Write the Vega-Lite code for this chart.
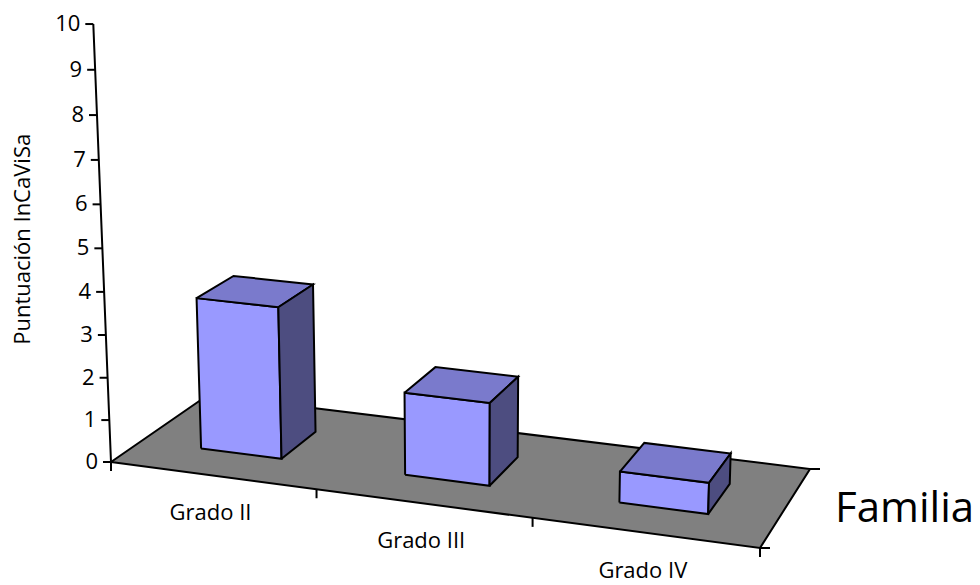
{
  "$schema": "https://vega.github.io/schema/vega-lite/v6.json",
  "width": 980,
  "height": 585,
  "autosize": {"type": "fit", "contains": "padding"},
  "padding": 0,
  "background": "#ffffff",
  "config": {
    "view": {"stroke": null},
    "text": {"font": "Open Sans", "color": "#000000"}
  },
  "datasets": {
    "barras": [
      {"familia": "Grado II", "valor": 3.6},
      {"familia": "Grado III", "valor": 1.94},
      {"familia": "Grado IV", "valor": 0.72}
    ],
    "escala": [
      {"v": 0}, {"v": 1}, {"v": 2}, {"v": 3}, {"v": 4}, {"v": 5},
      {"v": 6}, {"v": 7}, {"v": 8}, {"v": 9}, {"v": 10}
    ]
  },
  "layer": [
    {
      "description": "Floor of the 3D scene (categories 0..n along x, depth 0..1)",
      "data": {"name": "barras"},
      "transform": [
        {"aggregate": [{"op": "count", "as": "n"}]},
        {"calculate": "[0, 1, 2, 3, 4]", "as": "k"},
        {"flatten": ["k"]},
        {"calculate": "datum.k % 4", "as": "c"},
        {"calculate": "(datum.c == 1 || datum.c == 2) ? datum.n : 0", "as": "gx"},
        {"calculate": "datum.c >= 2 ? 1 : 0", "as": "gz"},
        {"calculate": "0", "as": "gy"},
        {"calculate": "1 - 0.02436*datum.gx + 0.08414*datum.gz - 0.00473*datum.gy", "as": "w"},
        {"calculate": "(197.82*datum.gx + 114.5*datum.gz - 2.211*datum.gy + 111)/datum.w", "as": "px"},
        {"calculate": "(15.317*datum.gx - 33.76*datum.gz - 43.91*datum.gy + 462)/datum.w", "as": "py"}
      ],
      "mark": {"type": "line", "fill": "#808080", "stroke": "#000000", "strokeWidth": 2, "strokeJoin": "miter"},
      "encoding": {
        "x": {"field": "px", "type": "quantitative", "scale": {"domain": [0, 980], "nice": false, "zero": false}, "axis": null},
        "y": {"field": "py", "type": "quantitative", "scale": {"domain": [0, 585], "reverse": true, "nice": false, "zero": false}, "axis": null},
        "order": {"field": "k", "type": "quantitative"}
      }
    },
    {
      "description": "Columns: front, top and right faces of each bar",
      "data": {"name": "barras"},
      "transform": [
        {"window": [{"op": "row_number", "as": "i"}]},
        {"calculate": "['frente', 'techo', 'lado']", "as": "cara"},
        {"flatten": ["cara"]},
        {"calculate": "[0, 1, 2, 3, 4]", "as": "k"},
        {"flatten": ["k"]},
        {"calculate": "datum.k % 4", "as": "c"},
        {"calculate": "(datum.cara == 'lado' || datum.c == 1 || datum.c == 2) ? datum.i - 0.3 : datum.i - 0.7", "as": "gx"},
        {"calculate": "datum.cara == 'frente' ? 0.3 : (datum.cara == 'techo' ? (datum.c >= 2 ? 0.69 : 0.3) : ((datum.c == 1 || datum.c == 2) ? 0.69 : 0.3))", "as": "gz"},
        {"calculate": "(datum.cara == 'techo' || datum.c >= 2) ? datum.valor : 0", "as": "gy"},
        {"calculate": "1 - 0.02436*datum.gx + 0.08414*datum.gz - 0.00473*datum.gy", "as": "w"},
        {"calculate": "(197.82*datum.gx + 114.5*datum.gz - 2.211*datum.gy + 111)/datum.w", "as": "px"},
        {"calculate": "(15.317*datum.gx - 33.76*datum.gz - 43.91*datum.gy + 462)/datum.w", "as": "py"}
      ],
      "encoding": {
        "x": {"field": "px", "type": "quantitative", "scale": {"domain": [0, 980], "nice": false, "zero": false}, "axis": null},
        "y": {"field": "py", "type": "quantitative", "scale": {"domain": [0, 585], "reverse": true, "nice": false, "zero": false}, "axis": null},
        "detail": {"field": "familia", "type": "nominal"},
        "order": {"field": "k", "type": "quantitative"}
      },
      "layer": [
        {
          "transform": [{"filter": "datum.cara == 'frente'"}],
          "mark": {"type": "line", "fill": "#9999FF", "stroke": "#000000", "strokeWidth": 2, "strokeJoin": "miter"}
        },
        {
          "transform": [{"filter": "datum.cara == 'techo'"}],
          "mark": {"type": "line", "fill": "#7A7ACC", "stroke": "#000000", "strokeWidth": 2, "strokeJoin": "miter"}
        },
        {
          "transform": [{"filter": "datum.cara == 'lado'"}],
          "mark": {"type": "line", "fill": "#4D4D80", "stroke": "#000000", "strokeWidth": 2, "strokeJoin": "miter"}
        }
      ]
    },
    {
      "description": "Value axis line, ticks and labels",
      "data": {"name": "escala"},
      "transform": [
        {"calculate": "0", "as": "gx"},
        {"calculate": "0", "as": "gz"},
        {"calculate": "datum.v", "as": "gy"},
        {"calculate": "1 - 0.02436*datum.gx + 0.08414*datum.gz - 0.00473*datum.gy", "as": "w"},
        {"calculate": "(197.82*datum.gx + 114.5*datum.gz - 2.211*datum.gy + 111)/datum.w", "as": "px"},
        {"calculate": "(15.317*datum.gx - 33.76*datum.gz - 43.91*datum.gy + 462)/datum.w", "as": "py"},
        {"calculate": "datum.px - 8", "as": "xt"},
        {"calculate": "datum.px - 13", "as": "xl"}
      ],
      "encoding": {
        "x": {"field": "px", "type": "quantitative", "scale": {"domain": [0, 980], "nice": false, "zero": false}, "axis": null},
        "y": {"field": "py", "type": "quantitative", "scale": {"domain": [0, 585], "reverse": true, "nice": false, "zero": false}, "axis": null}
      },
      "layer": [
        {
          "mark": {"type": "line", "stroke": "#000000", "strokeWidth": 2},
          "encoding": {"order": {"field": "v", "type": "quantitative"}}
        },
        {
          "mark": {"type": "rule", "stroke": "#000000", "strokeWidth": 2},
          "encoding": {
            "x": {"field": "xt", "type": "quantitative", "scale": {"domain": [0, 980], "nice": false, "zero": false}, "axis": null},
            "x2": {"field": "px"}
          }
        },
        {
          "mark": {"type": "text", "align": "right", "baseline": "middle", "fontSize": 22},
          "encoding": {
            "x": {"field": "xl", "type": "quantitative", "scale": {"domain": [0, 980], "nice": false, "zero": false}, "axis": null},
            "text": {"field": "v", "type": "quantitative"}
          }
        }
      ]
    },
    {
      "description": "Category axis ticks along the front edge of the floor",
      "data": {"name": "barras"},
      "transform": [
        {"window": [{"op": "row_number", "as": "i"}]},
        {"calculate": "datum.i == 1 ? [0, 1] : [datum.i]", "as": "m"},
        {"flatten": ["m"]},
        {"calculate": "datum.m", "as": "gx"},
        {"calculate": "0", "as": "gz"},
        {"calculate": "0", "as": "gy"},
        {"calculate": "1 - 0.02436*datum.gx + 0.08414*datum.gz - 0.00473*datum.gy", "as": "w"},
        {"calculate": "(197.82*datum.gx + 114.5*datum.gz - 2.211*datum.gy + 111)/datum.w", "as": "px"},
        {"calculate": "(15.317*datum.gx - 33.76*datum.gz - 43.91*datum.gy + 462)/datum.w", "as": "py"},
        {"calculate": "datum.py + 9", "as": "py2"}
      ],
      "mark": {"type": "rule", "stroke": "#000000", "strokeWidth": 2},
      "encoding": {
        "x": {"field": "px", "type": "quantitative", "scale": {"domain": [0, 980], "nice": false, "zero": false}, "axis": null},
        "y": {"field": "py", "type": "quantitative", "scale": {"domain": [0, 585], "reverse": true, "nice": false, "zero": false}, "axis": null},
        "y2": {"field": "py2"}
      }
    },
    {
      "description": "Depth axis ticks on the right edge of the floor",
      "data": {"name": "barras"},
      "transform": [
        {"aggregate": [{"op": "count", "as": "n"}]},
        {"calculate": "[0, 1]", "as": "zz"},
        {"flatten": ["zz"]},
        {"calculate": "datum.n", "as": "gx"},
        {"calculate": "datum.zz", "as": "gz"},
        {"calculate": "0", "as": "gy"},
        {"calculate": "1 - 0.02436*datum.gx + 0.08414*datum.gz - 0.00473*datum.gy", "as": "w"},
        {"calculate": "(197.82*datum.gx + 114.5*datum.gz - 2.211*datum.gy + 111)/datum.w", "as": "px"},
        {"calculate": "(15.317*datum.gx - 33.76*datum.gz - 43.91*datum.gy + 462)/datum.w", "as": "py"},
        {"calculate": "datum.px + 10", "as": "px2"}
      ],
      "mark": {"type": "rule", "stroke": "#000000", "strokeWidth": 2},
      "encoding": {
        "x": {"field": "px", "type": "quantitative", "scale": {"domain": [0, 980], "nice": false, "zero": false}, "axis": null},
        "x2": {"field": "px2"},
        "y": {"field": "py", "type": "quantitative", "scale": {"domain": [0, 585], "reverse": true, "nice": false, "zero": false}, "axis": null}
      }
    },
    {
      "description": "Category labels under the front edge",
      "data": {"name": "barras"},
      "transform": [
        {"window": [{"op": "row_number", "as": "i"}]},
        {"calculate": "datum.i - 0.5", "as": "gx"},
        {"calculate": "0", "as": "gz"},
        {"calculate": "0", "as": "gy"},
        {"calculate": "1 - 0.02436*datum.gx + 0.08414*datum.gz - 0.00473*datum.gy", "as": "w"},
        {"calculate": "(197.82*datum.gx + 114.5*datum.gz - 2.211*datum.gy + 111)/datum.w", "as": "px"},
        {"calculate": "(15.317*datum.gx - 33.76*datum.gz - 43.91*datum.gy + 462)/datum.w", "as": "py"}
      ],
      "mark": {"type": "text", "align": "center", "baseline": "alphabetic", "fontSize": 22, "dx": -2, "dy": 45},
      "encoding": {
        "x": {"field": "px", "type": "quantitative", "scale": {"domain": [0, 980], "nice": false, "zero": false}, "axis": null},
        "y": {"field": "py", "type": "quantitative", "scale": {"domain": [0, 585], "reverse": true, "nice": false, "zero": false}, "axis": null},
        "text": {"field": "familia", "type": "nominal"}
      }
    },
    {
      "description": "Category axis title beside the right edge of the floor",
      "data": {"name": "barras"},
      "transform": [
        {"aggregate": [{"op": "count", "as": "n"}]},
        {"calculate": "datum.n", "as": "gx"},
        {"calculate": "0.5", "as": "gz"},
        {"calculate": "0", "as": "gy"},
        {"calculate": "1 - 0.02436*datum.gx + 0.08414*datum.gz - 0.00473*datum.gy", "as": "w"},
        {"calculate": "(197.82*datum.gx + 114.5*datum.gz - 2.211*datum.gy + 111)/datum.w", "as": "px"},
        {"calculate": "(15.317*datum.gx - 33.76*datum.gz - 43.91*datum.gy + 462)/datum.w", "as": "py"}
      ],
      "mark": {"type": "text", "align": "left", "baseline": "alphabetic", "fontSize": 42, "dx": 49, "dy": 15},
      "encoding": {
        "x": {"field": "px", "type": "quantitative", "scale": {"domain": [0, 980], "nice": false, "zero": false}, "axis": null},
        "y": {"field": "py", "type": "quantitative", "scale": {"domain": [0, 585], "reverse": true, "nice": false, "zero": false}, "axis": null},
        "text": {"value": "Familia"}
      }
    },
    {
      "description": "Value axis title, rotated, beside the middle of the axis",
      "data": {"name": "escala"},
      "transform": [
        {"aggregate": [{"op": "max", "field": "v", "as": "vmax"}]},
        {"calculate": "0", "as": "gx"},
        {"calculate": "0", "as": "gz"},
        {"calculate": "datum.vmax / 2", "as": "gy"},
        {"calculate": "1 - 0.02436*datum.gx + 0.08414*datum.gz - 0.00473*datum.gy", "as": "w"},
        {"calculate": "(197.82*datum.gx + 114.5*datum.gz - 2.211*datum.gy + 111)/datum.w - 79", "as": "tx"},
        {"calculate": "(15.317*datum.gx - 33.76*datum.gz - 43.91*datum.gy + 462)/datum.w - 9", "as": "ty"}
      ],
      "mark": {"type": "text", "align": "center", "baseline": "middle", "fontSize": 22, "angle": 270},
      "encoding": {
        "x": {"field": "tx", "type": "quantitative", "scale": {"domain": [0, 980], "nice": false, "zero": false}, "axis": null},
        "y": {"field": "ty", "type": "quantitative", "scale": {"domain": [0, 585], "reverse": true, "nice": false, "zero": false}, "axis": null},
        "text": {"value": "Puntuación InCaViSa"}
      }
    }
  ]
}
